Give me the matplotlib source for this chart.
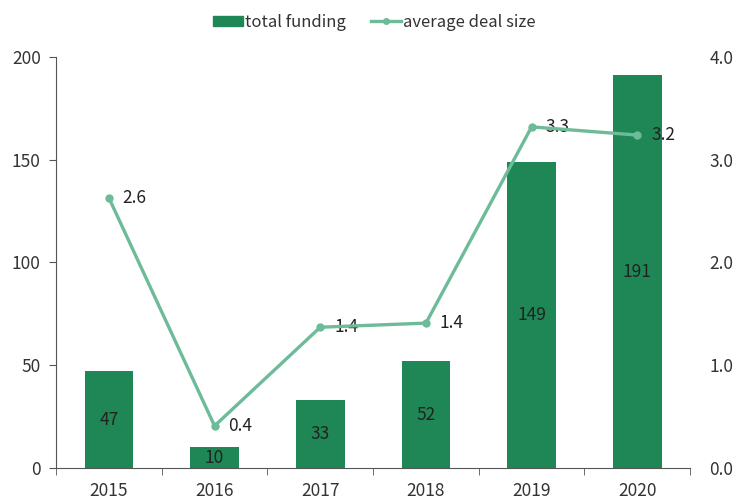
import matplotlib
matplotlib.use("Agg")
import matplotlib.pyplot as plt
from matplotlib.lines import Line2D
from matplotlib.patches import Patch
import numpy as np

plt.rcParams['font.family'] = ['Noto Sans CJK JP', 'DejaVu Sans']

years = ["2015", "2016", "2017", "2018", "2019", "2020"]
total_funding = [47, 10, 33, 52, 149, 191]
avg_deal_size = [2.63, 0.41, 1.37, 1.41, 3.32, 3.24]

bar_color = "#1f8755"
line_color = "#6dbb98"
text_color = "#333333"

fig = plt.figure(figsize=(7.34, 4.99), dpi=100)
ax = fig.add_axes([0.0763, 0.0621, 0.864, 0.8237])
ax2 = ax.twinx()

x = np.arange(len(years))
ax.bar(x, total_funding, width=0.46, color=bar_color, zorder=2)
for xi, v in zip(x, total_funding):
    ax.text(xi, v / 2, f"{v}", ha="center", va="center", fontsize=12.5, color="#222222", zorder=3)

ax.set_xlim(-0.5, len(years) - 0.5)
ax.set_ylim(0, 200)
ax.set_yticks([0, 50, 100, 150, 200])
ax.set_xticks(x)
ax.set_xticklabels(years)
ax.set_xticks(np.arange(-0.5, len(years), 1.0), minor=True)
ax.tick_params(axis="x", which="major", length=0, pad=10, labelsize=12.5, labelcolor=text_color)
ax.tick_params(axis="x", which="minor", length=5, direction="out", color="#555555")
ax.tick_params(axis="y", length=5, direction="out", labelsize=12.5, labelcolor=text_color, color="#555555", pad=6)
for s in ["top", "right"]:
    ax.spines[s].set_visible(False)
for s in ["left", "bottom"]:
    ax.spines[s].set_color("#555555")

ax2.plot(x, avg_deal_size, color=line_color, lw=2.4, marker="o", ms=5, zorder=4)
for xi, v in zip(x, avg_deal_size):
    ax2.annotate(f"{v:.1f}", (xi, v), xytext=(10, 0), textcoords="offset points",
                 ha="left", va="center", fontsize=12.5, color="#222222")
ax2.set_ylim(0, 4)
ax2.set_yticks([0, 1, 2, 3, 4])
ax2.set_yticklabels([f"{t:.1f}" for t in [0, 1, 2, 3, 4]])
ax2.tick_params(axis="y", length=0, labelsize=12.5, labelcolor=text_color, pad=14)
for s in ax2.spines.values():
    s.set_visible(False)

handles = [Patch(color=bar_color, label="total funding"),
           Line2D([0], [0], color=line_color, lw=2.4, marker="o", ms=4, label="average deal size")]
fig.legend(handles=handles, loc="center", bbox_to_anchor=(0.51, 0.955), ncol=2, frameon=False,
           fontsize=12, handlelength=1.8, handleheight=0.6, handletextpad=0.15, columnspacing=1.5,
           labelcolor=text_color)

fig.savefig("out.png", dpi=100)
